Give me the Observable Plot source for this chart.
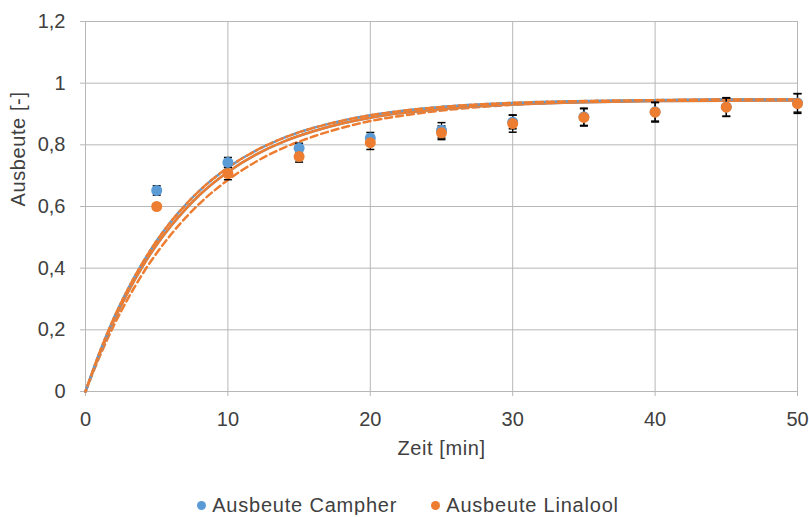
<!DOCTYPE html>
<html>
<head>
<meta charset="utf-8">
<script src="https://cdn.jsdelivr.net/npm/d3@7"></script>
<script src="https://cdn.jsdelivr.net/npm/@observablehq/plot@0.6"></script>
<style>
  body { margin: 0; background: #fff; font-family: "Liberation Sans", Arial, sans-serif; }
  #chart svg { display: block; }
  #chart svg g[aria-label="text"] text { letter-spacing: 0.6px; }
  .legend { display: flex; justify-content: center; gap: 34px; font-size: 20px; line-height: 20px; letter-spacing: 0.8px; color: #404040; padding-top: 25px; padding-left: 7px; }
  .legend span.item { display: inline-flex; align-items: center; }
  .legend span.sw { width: 9px; height: 9px; border-radius: 50%; display: inline-block; margin-right: 6px; }
</style>
</head>
<body>
<div id="chart"></div>
<script>
// Measured yields (mean and standard deviation) at each sampling time
const times = [5, 10, 15, 20, 25, 30, 35, 40, 45, 50];
const campher = [0.652, 0.743, 0.789, 0.822, 0.847, 0.874, 0.891, 0.907, 0.923, 0.936];
const campherErr = [0.015, 0.016, 0.016, 0.018, 0.025, 0.022, 0.028, 0.030, 0.030, 0.030];
const linalool = [0.600, 0.707, 0.762, 0.807, 0.839, 0.869, 0.889, 0.906, 0.922, 0.934];
const linaloolErr = [0.008, 0.020, 0.018, 0.022, 0.022, 0.028, 0.028, 0.032, 0.030, 0.032];

// Model curves
const modelTimes = [0, 1, 2, 3, 4, 5, 6, 7, 8, 10, 12, 14, 16, 18, 20, 22, 25, 30, 35, 40, 45, 50];
const linaloolFit = [0, 0.123, 0.231, 0.324, 0.405, 0.476, 0.537, 0.590, 0.637, 0.712, 0.769, 0.812, 0.844, 0.869, 0.888, 0.902, 0.916, 0.931, 0.938, 0.942, 0.943, 0.944];
const upperModel = [0, 0.128, 0.239, 0.334, 0.417, 0.489, 0.551, 0.604, 0.651, 0.726, 0.782, 0.824, 0.855, 0.878, 0.896, 0.909, 0.923, 0.936, 0.942, 0.945, 0.947, 0.947];
const lowerModel = [0, 0.114, 0.215, 0.303, 0.381, 0.449, 0.509, 0.562, 0.609, 0.686, 0.746, 0.792, 0.827, 0.855, 0.877, 0.893, 0.911, 0.930, 0.939, 0.944, 0.947, 0.948];

const xTicks = [0, 10, 20, 30, 40, 50];
const yTicks = [0, 0.2, 0.4, 0.6, 0.8, 1, 1.2];

const BLUE = "#5B9BD5";
const ORANGE = "#ED7D31";
const GRID = "#b7b7b7";
const TEXT = "#404040";

const fmt = d => String(d).replace(".", ",");

const pts = (ys, errs) => times.map((t, i) => ({t, y: ys[i], lo: ys[i] - errs[i], hi: ys[i] + errs[i]}));
const campherPts = pts(campher, campherErr);
const linaloolPts = pts(linalool, linaloolErr);
const curve = ys => modelTimes.map((t, i) => ({t, y: ys[i]}));

// Horizontal cap drawn at the ends of each error bar
const cap = {draw(ctx) { ctx.moveTo(-4, 0); ctx.lineTo(4, 0); }};

const errorMarks = data => [
  Plot.ruleX(data, {x: "t", y1: "lo", y2: "hi", stroke: "#000", strokeWidth: 1.25}),
  Plot.dot(data, {x: "t", y: "lo", symbol: cap, r: 4, stroke: "#000", strokeWidth: 1.5}),
  Plot.dot(data, {x: "t", y: "hi", symbol: cap, r: 4, stroke: "#000", strokeWidth: 1.5})
];

const chart = Plot.plot({
  width: 809,
  height: 470,
  marginTop: 21,
  marginBottom: 79,
  marginLeft: 85,
  marginRight: 12,
  style: {fontFamily: "'Liberation Sans', Arial, sans-serif", fontSize: "20px", color: TEXT, background: "#fff"},
  x: {domain: [0, 50], ticks: xTicks, tickFormat: fmt, label: null},
  y: {domain: [0, 1.2], ticks: yTicks, tickFormat: fmt, label: null},
  marks: [
    Plot.gridX(xTicks.slice(1), {stroke: GRID, strokeOpacity: 1}),
    Plot.gridY(yTicks.slice(1), {stroke: GRID, strokeOpacity: 1}),
    Plot.axisX({ticks: xTicks, tickFormat: fmt, tickSize: 5, tickPadding: 15, stroke: GRID, fill: TEXT, fontSize: 20}),
    Plot.axisY({ticks: yTicks, tickFormat: fmt, tickSize: 5, tickPadding: 15, stroke: GRID, fill: TEXT, fontSize: 20}),
    Plot.ruleX([0], {stroke: GRID}),
    Plot.ruleY([0], {stroke: GRID}),
    Plot.line(curve(lowerModel), {x: "t", y: "y", stroke: ORANGE, strokeWidth: 2.5, strokeDasharray: "7,4", curve: "monotone-x"}),
    Plot.line(curve(linaloolFit), {x: "t", y: "y", stroke: BLUE, strokeWidth: 2.5, curve: "monotone-x"}),
    Plot.line(curve(linaloolFit), {x: "t", y: "y", stroke: ORANGE, strokeWidth: 2.5, curve: "monotone-x"}),
    Plot.line(curve(upperModel), {x: "t", y: "y", stroke: BLUE, strokeWidth: 2.5, strokeDasharray: "7,4", curve: "monotone-x"}),
    Plot.line(curve(upperModel), {x: "t", y: "y", stroke: ORANGE, strokeWidth: 2.5, strokeDasharray: "7,4", strokeDashoffset: 5, curve: "monotone-x"}),
    ...errorMarks(campherPts),
    ...errorMarks(linaloolPts),
    Plot.dot(campherPts, {x: "t", y: "y", r: 5.5, fill: BLUE}),
    Plot.dot(linaloolPts, {x: "t", y: "y", r: 5.5, fill: ORANGE}),
    Plot.text(["Zeit [min]"], {frameAnchor: "bottom", dy: 63, fill: TEXT, fontSize: 20}),
    Plot.text(["Ausbeute [-]"], {frameAnchor: "left", dx: -67, rotate: -90, fill: TEXT, fontSize: 20})
  ]
});
document.getElementById("chart").appendChild(chart);

const legend = document.createElement("div");
legend.className = "legend";
[["Ausbeute Campher", BLUE], ["Ausbeute Linalool", ORANGE]].forEach(([name, color]) => {
  const item = document.createElement("span");
  item.className = "item";
  const sw = document.createElement("span");
  sw.className = "sw";
  sw.style.background = color;
  item.appendChild(sw);
  item.appendChild(document.createTextNode(name));
  legend.appendChild(item);
});
document.body.appendChild(legend);
</script>
</body>
</html>
